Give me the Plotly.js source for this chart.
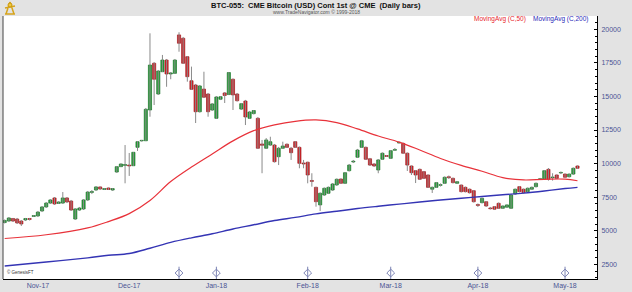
<!DOCTYPE html>
<html><head><meta charset="utf-8">
<script src="https://cdn.plot.ly/plotly-3.0.1.min.js"></script>
<style>html,body{margin:0;padding:0;background:#e3e3e3;}#chart{width:632px;height:292px;}</style>
</head><body><div id="chart"></div>
<script>
// Trading days (CME, daily bars)
const dates = [
'2017-10-20','2017-10-23','2017-10-24','2017-10-25','2017-10-26','2017-10-27','2017-10-30','2017-10-31',
'2017-11-01','2017-11-02','2017-11-03','2017-11-06','2017-11-07','2017-11-08','2017-11-09','2017-11-10','2017-11-13','2017-11-14','2017-11-15','2017-11-16','2017-11-17','2017-11-20','2017-11-21','2017-11-22','2017-11-23','2017-11-24','2017-11-27','2017-11-28','2017-11-29','2017-11-30',
'2017-12-01','2017-12-04','2017-12-05','2017-12-06','2017-12-07','2017-12-08','2017-12-11','2017-12-12','2017-12-13','2017-12-14','2017-12-15','2017-12-18','2017-12-19','2017-12-20','2017-12-21','2017-12-22','2017-12-25','2017-12-26','2017-12-27','2017-12-28','2017-12-29',
'2018-01-02','2018-01-03','2018-01-04','2018-01-05','2018-01-08','2018-01-09','2018-01-10','2018-01-11','2018-01-12','2018-01-15','2018-01-16','2018-01-17','2018-01-18','2018-01-19','2018-01-22','2018-01-23','2018-01-24','2018-01-25','2018-01-26','2018-01-29','2018-01-30','2018-01-31',
'2018-02-01','2018-02-02','2018-02-05','2018-02-06','2018-02-07','2018-02-08','2018-02-09','2018-02-12','2018-02-13','2018-02-14','2018-02-15','2018-02-16','2018-02-19','2018-02-20','2018-02-21','2018-02-22','2018-02-23','2018-02-26','2018-02-27','2018-02-28',
'2018-03-01','2018-03-02','2018-03-05','2018-03-06','2018-03-07','2018-03-08','2018-03-09','2018-03-12','2018-03-13','2018-03-14','2018-03-15','2018-03-16','2018-03-19','2018-03-20','2018-03-21','2018-03-22','2018-03-23','2018-03-26','2018-03-27','2018-03-28','2018-03-29',
'2018-04-02','2018-04-03','2018-04-04','2018-04-05','2018-04-06','2018-04-09','2018-04-10','2018-04-11','2018-04-12','2018-04-13','2018-04-16','2018-04-17','2018-04-18','2018-04-19','2018-04-20','2018-04-23','2018-04-24','2018-04-25','2018-04-26','2018-04-27','2018-04-30',
'2018-05-01','2018-05-02','2018-05-03','2018-05-04'];

const openP = [5610,5720,5910,5870,5720,5800,5910,6060,6100,6470,
6770,7060,7440,7030,7060,7440,7210,5870,6540,6620,
7290,7850,8030,8260,8070,8180,8030,9370,9770,9860,
9890,9840,11210,11690,11700,13990,17470,15180,16840,17710,
16670,16720,19580,19330,17960,16170,15850,13860,15550,15180,
13990,13370,14790,15260,15140,16280,15180,14060,14660,13370,
13720,13370,11460,11140,11380,11380,10510,11140,11440,11140,
11630,11210,10040,10100,8740,8230,6920,7660,7790,8030,
8410,8850,8530,9470,10120,10470,11210,11210,10360,9970,
9520,10320,10600,10390,10990,11530,11500,10770,9820,9470,
9570,9400,9150,8090,8230,8380,8530,9020,8900,8530,
8400,8230,8090,7980,6950,7090,7160,6690,6790,7040,
6670,6750,6670,7740,8280,8090,7910,8090,8280,8830,
8830,9570,8950,9150,9300,9220,9020,9220,9820];
const highP = [5840,6020,5950,5950,5800,5950,5950,6170,6470,6840,
7140,7360,7510,7210,7880,7510,7290,6690,6770,7360,
7960,8030,8330,8290,8180,8220,8180,9820,10010,11380,
10790,10860,11680,11760,14140,19700,17560,16970,18090,17790,
16820,17790,19780,19430,18010,17220,15930,15850,16840,15260,
14510,15030,15030,15330,16820,16340,15260,14510,14740,13920,
13990,13470,11760,11900,12000,11460,11240,11630,11500,11240,
11680,11270,10270,10140,9280,8280,7850,8220,8290,8550,
8890,8890,9370,9970,10270,11090,11760,11270,10420,10040,
10340,10830,10640,11010,11160,11630,11570,10830,9860,9520,
9630,9450,9190,8290,8630,8520,9040,9110,8960,8700,
8440,8290,8140,8030,7030,7470,7210,6770,6840,7100,
6880,6950,7740,8140,8330,8140,8220,8290,8590,8930,
9520,9670,9280,9190,9410,9260,9260,9710,9860];
const lowP = [5540,5650,5650,5500,5350,5720,5760,6020,6020,6390,
6690,6990,6920,6990,6990,7060,6470,5800,6470,6540,
7210,7730,7960,8030,8030,8030,7960,9300,9750,8530,
9080,9820,10940,11640,11680,13490,14360,15110,16820,15720,
16280,16670,18330,17420,16100,15480,13020,13800,14880,13490,
13920,13320,14730,14510,15110,13990,14620,13990,12870,13320,
13660,11090,9280,11090,11310,10080,9890,11090,11160,10270,
11160,9650,9650,8530,8280,6790,6470,7590,7730,7960,
8330,8480,8480,9410,10040,10420,11160,10270,9820,9750,
9280,10270,10490,10340,10940,11500,10710,9450,9150,8550,
8780,8850,8180,7810,8180,8290,8480,8850,8520,8480,
7850,7850,7770,7100,6770,7030,6770,6580,6540,6620,
6620,6690,6620,7660,7850,7770,7850,8030,8220,8780,
8780,8730,8730,8850,9220,8930,8960,9150,9600];
const closeP = [5760,5950,5720,5580,5500,5910,5840,6130,6390,6770,
7060,7290,6990,7140,7440,7140,6540,6620,6690,7290,
7880,7920,8260,8110,8140,8070,8140,9770,9970,9930,
9820,10840,11630,11730,14040,17340,16280,16890,17710,16670,
16750,17710,18960,17470,16470,15530,13860,15780,14940,13860,
14440,14960,14980,15070,16780,15110,14680,14460,13470,13840,
13950,11140,11360,11760,11630,10140,11140,11310,11210,10810,
11210,10020,9970,9150,8670,7160,7790,8160,8230,8480,
8830,8530,9320,9890,10180,11010,11700,10320,9890,9820,
10270,10770,10530,10960,11050,11590,10770,9890,9320,9150,
8830,8900,8230,8230,8580,8430,8980,8950,8580,8650,
7910,7910,7830,7160,6880,7410,6840,6640,6600,6670,
6840,6920,7660,8090,7910,7830,8160,8230,8530,8870,
9470,8830,9000,8900,9340,8980,9220,9650,9650];

const maDates = ['2017-10-20','2017-11-03','2017-11-17','2017-11-24','2017-12-01','2017-12-08','2017-12-15','2017-12-22','2017-12-29',
'2018-01-08','2018-01-15','2018-01-22','2018-01-29','2018-02-05','2018-02-12','2018-02-19','2018-02-26','2018-03-05','2018-03-12',
'2018-03-19','2018-03-26','2018-04-03','2018-04-10','2018-04-17','2018-04-24','2018-05-01','2018-05-04'];
const ma50 = [4420,4700,5210,5680,6270,7250,8660,9740,10720,11690,12450,12880,13150,13250,13050,12580,12050,11600,11010,10380,9870,9430,8950,8780,8830,8840,8720];
const ma200 = [2370,2670,2980,3170,3300,3690,4130,4470,4770,5130,5440,5760,5990,6250,6450,6650,6820,6980,7140,7290,7420,7550,7680,7800,7960,8140,8230];

const monthTicks = ['2017-11-01','2017-12-01','2018-01-02','2018-02-01','2018-03-01','2018-04-02','2018-05-01'];
const monthLabels = ['Nov-17','Dec-17','Jan-18','Feb-18','Mar-18','Apr-18','May-18'];
const eventDates = ['2017-12-19','2018-01-02','2018-02-01','2018-03-01','2018-04-02','2018-05-01'];
const eventLevel = eventDates.map(() => 1850);

const FONT = 'Arial, "Liberation Sans", sans-serif';
const GREEN = '#27a33a', GREEN_D = '#187326', RED = '#d8262c', RED_D = '#9c1a1e';

const up = closeP.map((c, i) => c >= openP[i]);
const bodyBase = closeP.map((c, i) => Math.min(c, openP[i]));
const bodyH = closeP.map((c, i) => Math.abs(c - openP[i]));
const wx = [], wy = [];
dates.forEach((d, i) => { wx.push(d, d, null); wy.push(lowP[i], highP[i], null); });

const traces = [
  {type: 'scatter', mode: 'lines', x: wx, y: wy, line: {color: '#8a8a8a', width: 1}, hoverinfo: 'skip', showlegend: false, connectgaps: false},
  {type: 'bar', x: dates, y: bodyH, base: bodyBase, width: 0.76,
   marker: {color: up.map(u => u ? GREEN : RED), line: {color: up.map(u => u ? GREEN_D : RED_D), width: 0.7}},
   showlegend: false},
  {type: 'scatter', mode: 'lines', x: maDates, y: ma50, line: {color: '#e8323a', width: 1.2, shape: 'spline', smoothing: 1}, showlegend: false},
  {type: 'scatter', mode: 'lines', x: maDates, y: ma200, line: {color: '#3434b4', width: 1.4, shape: 'spline', smoothing: 1}, showlegend: false},
  {type: 'scatter', mode: 'markers', x: eventDates, y: eventLevel, marker: {symbol: 'diamond-open', size: 6, color: '#7d84b4', line: {width: 1}}, showlegend: false},
  {type: 'scatter', mode: 'markers', x: eventDates, y: eventLevel, marker: {symbol: 'line-ns-open', size: 9, color: '#7d84b4', line: {width: 1, color: '#7d84b4'}}, showlegend: false}
];

// pixel -> paper helpers for decorations only
const px = v => (v - 3) / 594, py = v => (279 - v) / 263;

const layout = {
  width: 632, height: 292,
  margin: {l: 3, r: 35, t: 16, b: 13, pad: 0},
  paper_bgcolor: '#e3e3e3', plot_bgcolor: '#ffffff',
  font: {family: FONT, size: 7, color: '#4a5494'},
  showlegend: false, bargap: 0, barmode: 'overlay',
  xaxis: {type: 'category', categoryorder: 'array', categoryarray: dates,
    range: [-0.41, 142.7], tickmode: 'array', tickvals: monthTicks, ticktext: monthLabels,
    ticks: '', showgrid: false, zeroline: false, showline: true, linecolor: '#000', linewidth: 1,
    tickfont: {family: FONT, size: 7, color: '#4a5494'}, fixedrange: true},
  yaxis: {side: 'right', range: [1404, 20990], tick0: 0, dtick: 2500, tickformat: 'd',
    ticks: 'inside', ticklen: 3, tickcolor: '#000', tickwidth: 1,
    minor: {dtick: 500, ticks: 'inside', ticklen: 2, tickcolor: '#000', tickwidth: 1},
    showgrid: false, zeroline: false, showline: true, linecolor: '#000', linewidth: 1,
    tickfont: {family: FONT, size: 7, color: '#4a5494'}, ticklabelstandoff: 2, fixedrange: true},
  shapes: [
    {type: 'line', xref: 'paper', yref: 'paper', x0: 0, x1: 0, y0: 0, y1: 1, line: {color: '#444', width: 1}},
    // small gold logo in the header
    {type: 'path', xref: 'paper', yref: 'paper',
     path: `M ${px(10)} ${py(2)} L ${px(6)} ${py(14)} M ${px(10)} ${py(2)} L ${px(14)} ${py(14)} M ${px(5)} ${py(8)} L ${px(15)} ${py(6)} M ${px(5)} ${py(14)} L ${px(15)} ${py(14)}`,
     line: {color: '#d6a41c', width: 1.5}},
    {type: 'circle', xref: 'paper', yref: 'paper', x0: px(8), x1: px(12), y0: py(3), y1: py(7),
     line: {color: '#c99612', width: 1}, fillcolor: '#f0c93a'}
  ],
  annotations: [
    {xref: 'paper', yref: 'paper', x: 0.527, y: 1.040, xanchor: 'center', yanchor: 'middle', showarrow: false,
     text: '<b>BTC-055:  CME Bitcoin (USD) Cont 1st @ CME  (Daily bars)</b>', font: {family: FONT, size: 7.5, color: '#111'}},
    {xref: 'paper', yref: 'paper', x: 0.527, y: 1.016, xanchor: 'center', yanchor: 'middle', showarrow: false,
     text: 'www.TradeNavigator.com © 1999-2018', font: {family: FONT, size: 5, color: '#555'}},
    {xref: 'paper', yref: 'paper', x: 0.884, y: 0.988, xanchor: 'right', yanchor: 'middle', showarrow: false,
     text: 'MovingAvg (C,50)', font: {family: FONT, size: 6.5, color: '#e8262b'}},
    {xref: 'paper', yref: 'paper', x: 0.99, y: 0.988, xanchor: 'right', yanchor: 'middle', showarrow: false,
     text: 'MovingAvg (C,200)', font: {family: FONT, size: 6.5, color: '#2a2ab8'}},
    {xref: 'paper', yref: 'paper', x: 0.004, y: 0.026, xanchor: 'left', yanchor: 'middle', showarrow: false,
     text: '© GenesisFT', font: {family: FONT, size: 4.5, color: '#333'}}
  ]
};

Plotly.newPlot('chart', traces, layout, {displayModeBar: false, staticPlot: true});
</script></body></html>
